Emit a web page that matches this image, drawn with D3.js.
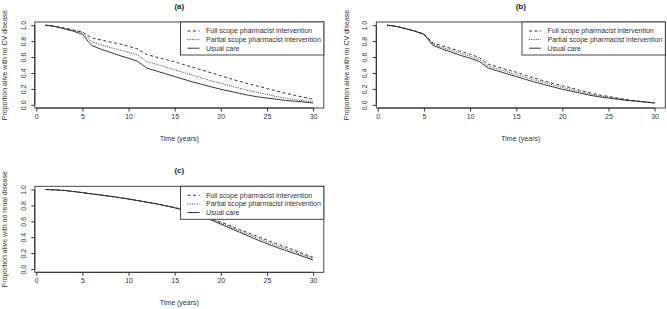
<!DOCTYPE html>
<html><head><meta charset="utf-8">
<script src="https://cdn.jsdelivr.net/npm/d3@7/dist/d3.min.js"></script>
<style>
html,body{margin:0;padding:0;background:#fff;}
svg{display:block;font-family:"Liberation Sans",Arial,sans-serif;}
</style></head>
<body>
<svg id="chart" width="667" height="309"></svg>
<script>
const years = d3.range(1, 31);
const seriesNames = ["Full scope pharmacist intervention", "Partial scope pharmacist intervention", "Usual care"];
const xTicks = [0, 5, 10, 15, 20, 25, 30];
const yTicks = [0.0, 0.2, 0.4, 0.6, 0.8, 1.0];

// Panel (a)
const aFull    = [1.00,0.985,0.965,0.94,0.915,0.84,0.815,0.79,0.765,0.735,0.70,0.63,0.60,0.57,0.54,0.505,0.47,0.435,0.40,0.365,0.33,0.295,0.265,0.235,0.205,0.175,0.145,0.12,0.095,0.07];
const aPartial = [1.00,0.985,0.96,0.935,0.905,0.79,0.755,0.72,0.69,0.66,0.625,0.54,0.51,0.475,0.44,0.405,0.37,0.335,0.30,0.27,0.24,0.21,0.18,0.155,0.13,0.105,0.085,0.065,0.05,0.04];
const aUsual   = [1.00,0.985,0.955,0.925,0.885,0.745,0.70,0.66,0.62,0.585,0.545,0.46,0.425,0.39,0.355,0.32,0.285,0.255,0.225,0.195,0.17,0.145,0.12,0.10,0.085,0.07,0.055,0.045,0.035,0.022];
// Panel (b)
const bFull    = [1.00,0.985,0.96,0.93,0.89,0.775,0.74,0.705,0.67,0.635,0.595,0.51,0.475,0.44,0.41,0.37,0.335,0.30,0.27,0.24,0.21,0.18,0.15,0.125,0.105,0.085,0.065,0.05,0.035,0.025];
const bPartial = [1.00,0.985,0.958,0.928,0.888,0.76,0.72,0.685,0.645,0.61,0.57,0.485,0.45,0.415,0.38,0.345,0.31,0.28,0.25,0.218,0.19,0.163,0.137,0.113,0.095,0.078,0.06,0.047,0.034,0.023];
const bUsual   = [1.00,0.985,0.955,0.925,0.885,0.745,0.70,0.66,0.62,0.585,0.545,0.46,0.425,0.39,0.355,0.32,0.285,0.255,0.225,0.195,0.17,0.145,0.12,0.10,0.085,0.07,0.055,0.045,0.035,0.022];
// Panel (c)
const cFull    = [1.00,0.995,0.988,0.976,0.961,0.946,0.931,0.916,0.899,0.881,0.862,0.842,0.822,0.798,0.773,0.745,0.71,0.675,0.635,0.59,0.545,0.50,0.455,0.41,0.365,0.32,0.28,0.235,0.19,0.148];
const cPartial = [1.00,0.995,0.988,0.975,0.96,0.945,0.93,0.915,0.898,0.88,0.861,0.841,0.821,0.796,0.771,0.742,0.707,0.67,0.625,0.578,0.53,0.483,0.435,0.388,0.343,0.298,0.258,0.215,0.173,0.132];
const cUsual   = [1.00,0.995,0.988,0.975,0.96,0.945,0.93,0.915,0.898,0.88,0.86,0.84,0.82,0.795,0.77,0.74,0.705,0.665,0.615,0.565,0.515,0.465,0.415,0.365,0.32,0.275,0.235,0.195,0.155,0.115];

const panels = [
  {title:"(a)", ylab:"Proportion alive with no CV disease", dx:0, dy:0, data:[aFull,aPartial,aUsual]},
  {title:"(b)", ylab:"Proportion alive with no CV disease", dx:341.5, dy:0, data:[bFull,bPartial,bUsual]},
  {title:"(c)", ylab:"Proportion alive with no renal disease", dx:0, dy:164.3, data:[cFull,cPartial,cUsual]}
];
const dashes = ["3,2.5", "1,1.3", null];
const ink = "#222";

const svg = d3.select("#chart");
const box = {l:34.8, r:323.8, t:22, b:108};

panels.forEach(p => {
  const g = svg.append("g").attr("transform", `translate(${p.dx},${p.dy})`);
  const x = d3.scaleLinear().domain([-0.16, 31.16]).range([box.l, box.r]);
  const y = d3.scaleLinear().domain([-0.04, 1.04]).range([box.b, box.t]);

  // lines
  const line = d3.line().x((d,i) => x(years[i])).y(d => y(d));
  p.data.forEach((vals, k) => {
    g.append("path").datum(vals).attr("d", line)
      .attr("fill","none").attr("stroke", ink).attr("stroke-width", 0.9)
      .attr("stroke-dasharray", dashes[k]);
  });

  // box
  g.append("rect").attr("x", box.l).attr("y", box.t)
    .attr("width", box.r-box.l).attr("height", box.b-box.t)
    .attr("fill","none").attr("stroke","#333").attr("stroke-width",0.9);

  // x axis
  const xa = g.append("g").attr("transform", `translate(0,${box.b})`)
    .call(d3.axisBottom(x).tickValues(xTicks).tickSize(3.5).tickSizeOuter(0).tickFormat(d3.format("d")));
  xa.select(".domain").attr("d", `M${x(0)},0H${x(30)}`).attr("stroke","#333");
  xa.selectAll(".tick line").attr("stroke","#333");
  xa.selectAll("text").attr("font-size", 7).attr("fill", "#333").attr("y", 10.5).attr("dy", 0).attr("font-family","Liberation Sans, Arial, sans-serif");

  // y axis
  const ya = g.append("g").attr("transform", `translate(${box.l},0)`)
    .call(d3.axisLeft(y).tickValues(yTicks).tickSize(3.5).tickSizeOuter(0).tickFormat(d3.format(".1f")));
  ya.select(".domain").attr("d", `M0,${y(0)}V${y(1)}`).attr("stroke","#333");
  ya.selectAll(".tick line").attr("stroke","#333");
  ya.selectAll("text").attr("font-size", 7).attr("fill", "#333")
    .attr("x", null).attr("dy", 0).attr("text-anchor","middle")
    .attr("transform", "translate(-9,0) rotate(-90)").attr("y", 0)
    .attr("font-family","Liberation Sans, Arial, sans-serif");

  // labels
  g.append("text").attr("x", (box.l+box.r)/2).attr("y", 140.5)
    .attr("text-anchor","middle").attr("font-size",7).attr("fill","#333").text("Time (years)");
  g.append("text").attr("transform", `translate(7.3,${(box.t+box.b)/2}) rotate(-90)`)
    .attr("text-anchor","middle").attr("font-size",7).attr("fill","#333").text(p.ylab);
  g.append("text").attr("x", (box.l+box.r)/2).attr("y", 8.8)
    .attr("text-anchor","middle").attr("font-size",8).attr("font-weight","bold").attr("fill","#222").text(p.title);

  // legend
  const lx = 180.5, lw = box.r - lx, lt = box.t, lh = 33;
  const lg = g.append("g");
  lg.append("rect").attr("x", lx).attr("y", lt).attr("width", lw).attr("height", lh)
    .attr("fill","#fff").attr("stroke","#333").attr("stroke-width",0.9);
  seriesNames.forEach((name, k) => {
    const yy = lt + 9 + k*8.6;
    lg.append("line").attr("x1", lx+7).attr("x2", lx+19).attr("y1", yy).attr("y2", yy)
      .attr("stroke", ink).attr("stroke-width", 0.9).attr("stroke-dasharray", dashes[k]);
    lg.append("text").attr("x", lx+25.5).attr("y", yy+2.4).attr("font-size",7).attr("fill","#333").text(name);
  });
});
</script>
</body></html>
